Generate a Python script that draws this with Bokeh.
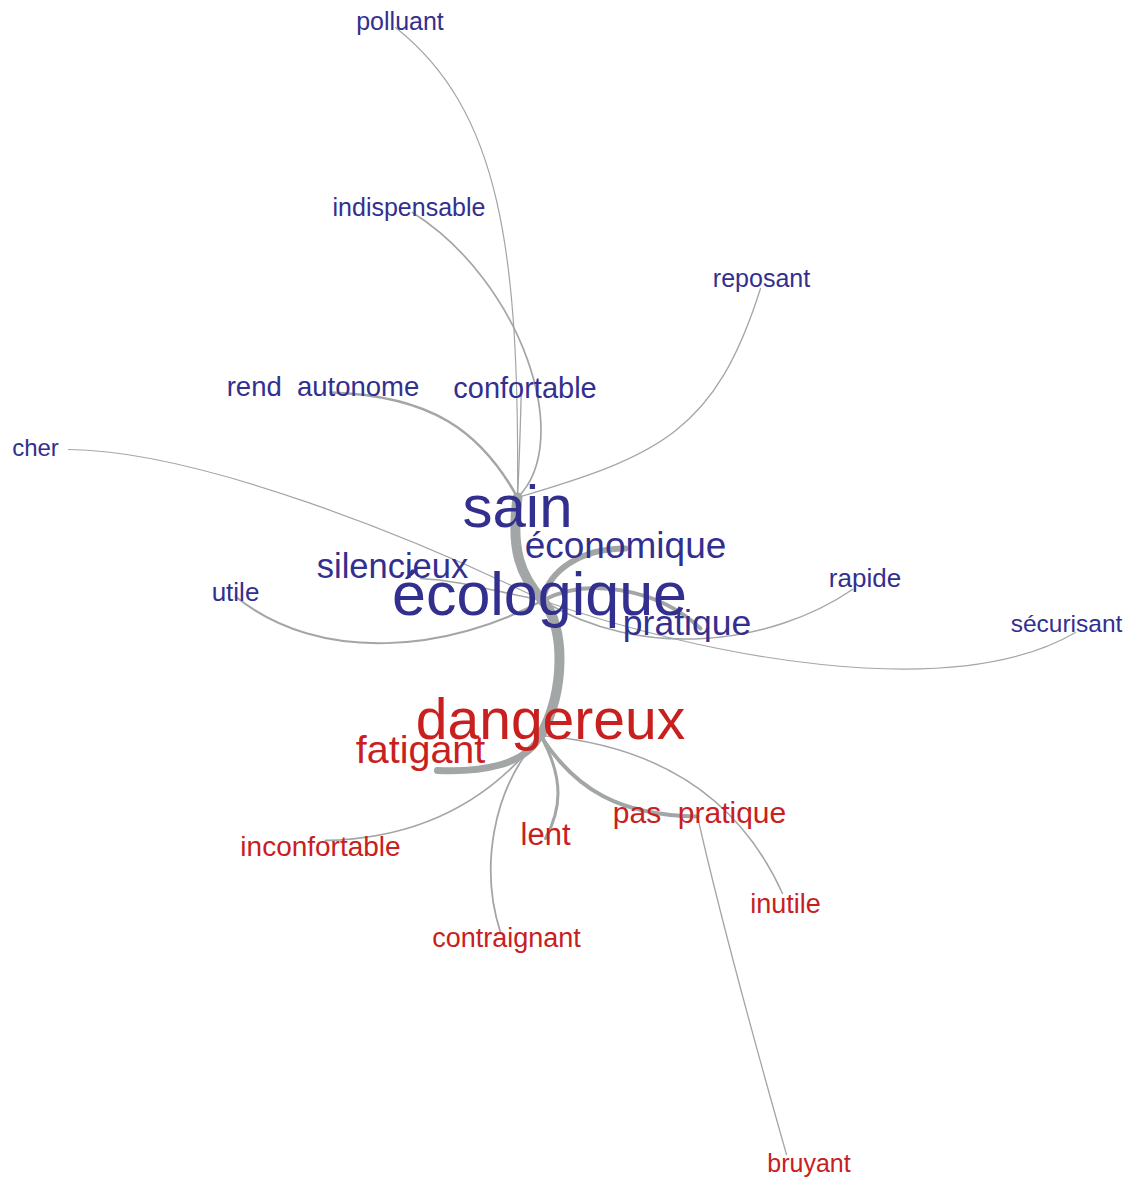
from bokeh.plotting import figure
from bokeh.models import Range1d, ColumnDataSource
from bokeh.embed import file_html
from bokeh.resources import INLINE
from bokeh.core.properties import value

# ---- words (labels) ----
words = ["polluant", "indispensable", "reposant", "rend\u00a0\u00a0autonome", "confortable", "cher",
         "sain", "économique", "silencieux", "écologique", "pratique", "utile", "rapide",
         "sécurisant", "dangereux", "fatigant", "lent", "pas\u00a0\u00a0pratique", "inconfortable",
         "contraignant", "inutile", "bruyant"]
group = ["pos"] * 14 + ["neg"] * 8
# label layout (centre x, baseline y) in layout units
label_x = [399.5, 408.5, 761, 322.5, 524.5, 35, 517, 625, 392, 539, 686.5, 235, 864.5,
           1066, 550, 420, 545, 699, 320, 506, 785, 808.5]
label_y = [29, 215, 286, 396, 398, 456, 528, 558, 578, 615, 635, 601, 587,
           632, 739, 763, 845, 823, 856, 947, 913, 1171]
font_px = [25, 25, 25, 27.5, 29, 24, 60, 37, 34.5, 61, 35.5, 26, 26,
           24.5, 57, 39.5, 31, 30, 28, 27, 27, 25]

# ---- graph nodes (edge attachment points) ----
node_names = ["sain", "écologique", "dangereux", "pas pratique", "polluant", "indispensable",
              "reposant", "rend autonome", "confortable", "cher", "utile", "silencieux",
              "économique", "pratique", "rapide", "sécurisant", "fatigant", "inconfortable",
              "contraignant", "lent", "inutile", "bruyant"]
node_x = [517, 542, 540, 697, 395, 412, 760, 330, 521, 68, 235, 420,
          625, 700, 852, 1075, 437, 325, 500, 545, 782, 786]
node_y = [497, 600, 735, 816, 27, 212, 288, 392, 383, 449, 596, 578,
          548, 628, 589, 632, 770, 840, 932, 838, 893, 1154]

# ---- edges: source, target, strength, curve control points ----
edge_src = ["sain", "sain", "sain", "sain", "sain", "sain",
            "écologique", "écologique", "écologique", "écologique", "écologique",
            "écologique", "écologique", "écologique",
            "dangereux", "dangereux", "dangereux", "dangereux", "dangereux", "dangereux",
            "pas pratique"]
edge_tgt = ["polluant", "indispensable", "rend autonome", "confortable", "reposant", "écologique",
            "dangereux", "cher", "sécurisant", "utile", "silencieux", "économique", "pratique",
            "rapide",
            "fatigant", "inconfortable", "contraignant", "lent", "pas pratique", "inutile",
            "bruyant"]
edge_w = [1.2, 1.7, 2.5, 1.3, 1.3, 10,
          10, 1.2, 1.2, 2, 1.5, 6, 4, 1.5,
          7, 1.8, 1.8, 3, 4, 1.5,
          1.3]
ctrl1_x = [519, 575, 480, 519, 660, 510, 565, 420, 700, 450, 490, 548, 590, 640,
           525, 490, 490, 565, 575, 660, 721]
ctrl1_y = [250, 440, 430, 460, 455, 550, 625, 540, 655, 650, 590, 570, 575, 660,
           765, 800, 790, 780, 790, 745, 922]
ctrl2_x = [500, 520, 430, 520, 715, 520, 565, 200, 950, 320, 460, 580, 660, 770,
           480, 420, 480, 560, 620, 740, 755]
ctrl2_y = [110, 280, 395, 420, 430, 575, 690, 450, 705, 665, 580, 548, 590, 645,
           772, 838, 870, 810, 815, 800, 1045]

BLUE = "#332f8f"
RED = "#c8201e"
EDGE = "#a3a6a7"

idx = {n: i for i, n in enumerate(node_names)}
esrc = ColumnDataSource(dict(
    x0=[node_x[idx[s]] for s in edge_src], y0=[node_y[idx[s]] for s in edge_src],
    x1=[node_x[idx[t]] for t in edge_tgt], y1=[node_y[idx[t]] for t in edge_tgt],
    cx0=ctrl1_x, cy0=ctrl1_y, cx1=ctrl2_x, cy1=ctrl2_y, w=edge_w))

W, H = 1123, 1179
p = figure(width=W, height=H, x_range=Range1d(0, W), y_range=Range1d(H, 0),
           output_backend="svg", toolbar_location=None, min_border=0)
p.axis.visible = False
p.grid.visible = False
p.outline_line_color = None
p.background_fill_color = "white"
p.border_fill_color = "white"

p.bezier(x0="x0", y0="y0", x1="x1", y1="y1", cx0="cx0", cy0="cy0", cx1="cx1", cy1="cy1",
         line_width="w", line_color=EDGE, line_cap="round", source=esrc)

# the SVG text renderer sits the alphabetic baseline ~0.36 em low; compensate
BASE_SHIFT = 0.36
lsrc = ColumnDataSource(dict(
    x=label_x, y=[b - BASE_SHIFT * s for b, s in zip(label_y, font_px)], t=words,
    size=[f"{s}px" for s in font_px],
    c=[BLUE if g == "pos" else RED for g in group]))
p.text(x="x", y="y", text="t", text_font_size="size", text_color="c",
       text_align="center", text_baseline="alphabetic",
       text_font=value("Liberation Sans"), source=lsrc)

open("out.html", "w").write(file_html(p, INLINE))
